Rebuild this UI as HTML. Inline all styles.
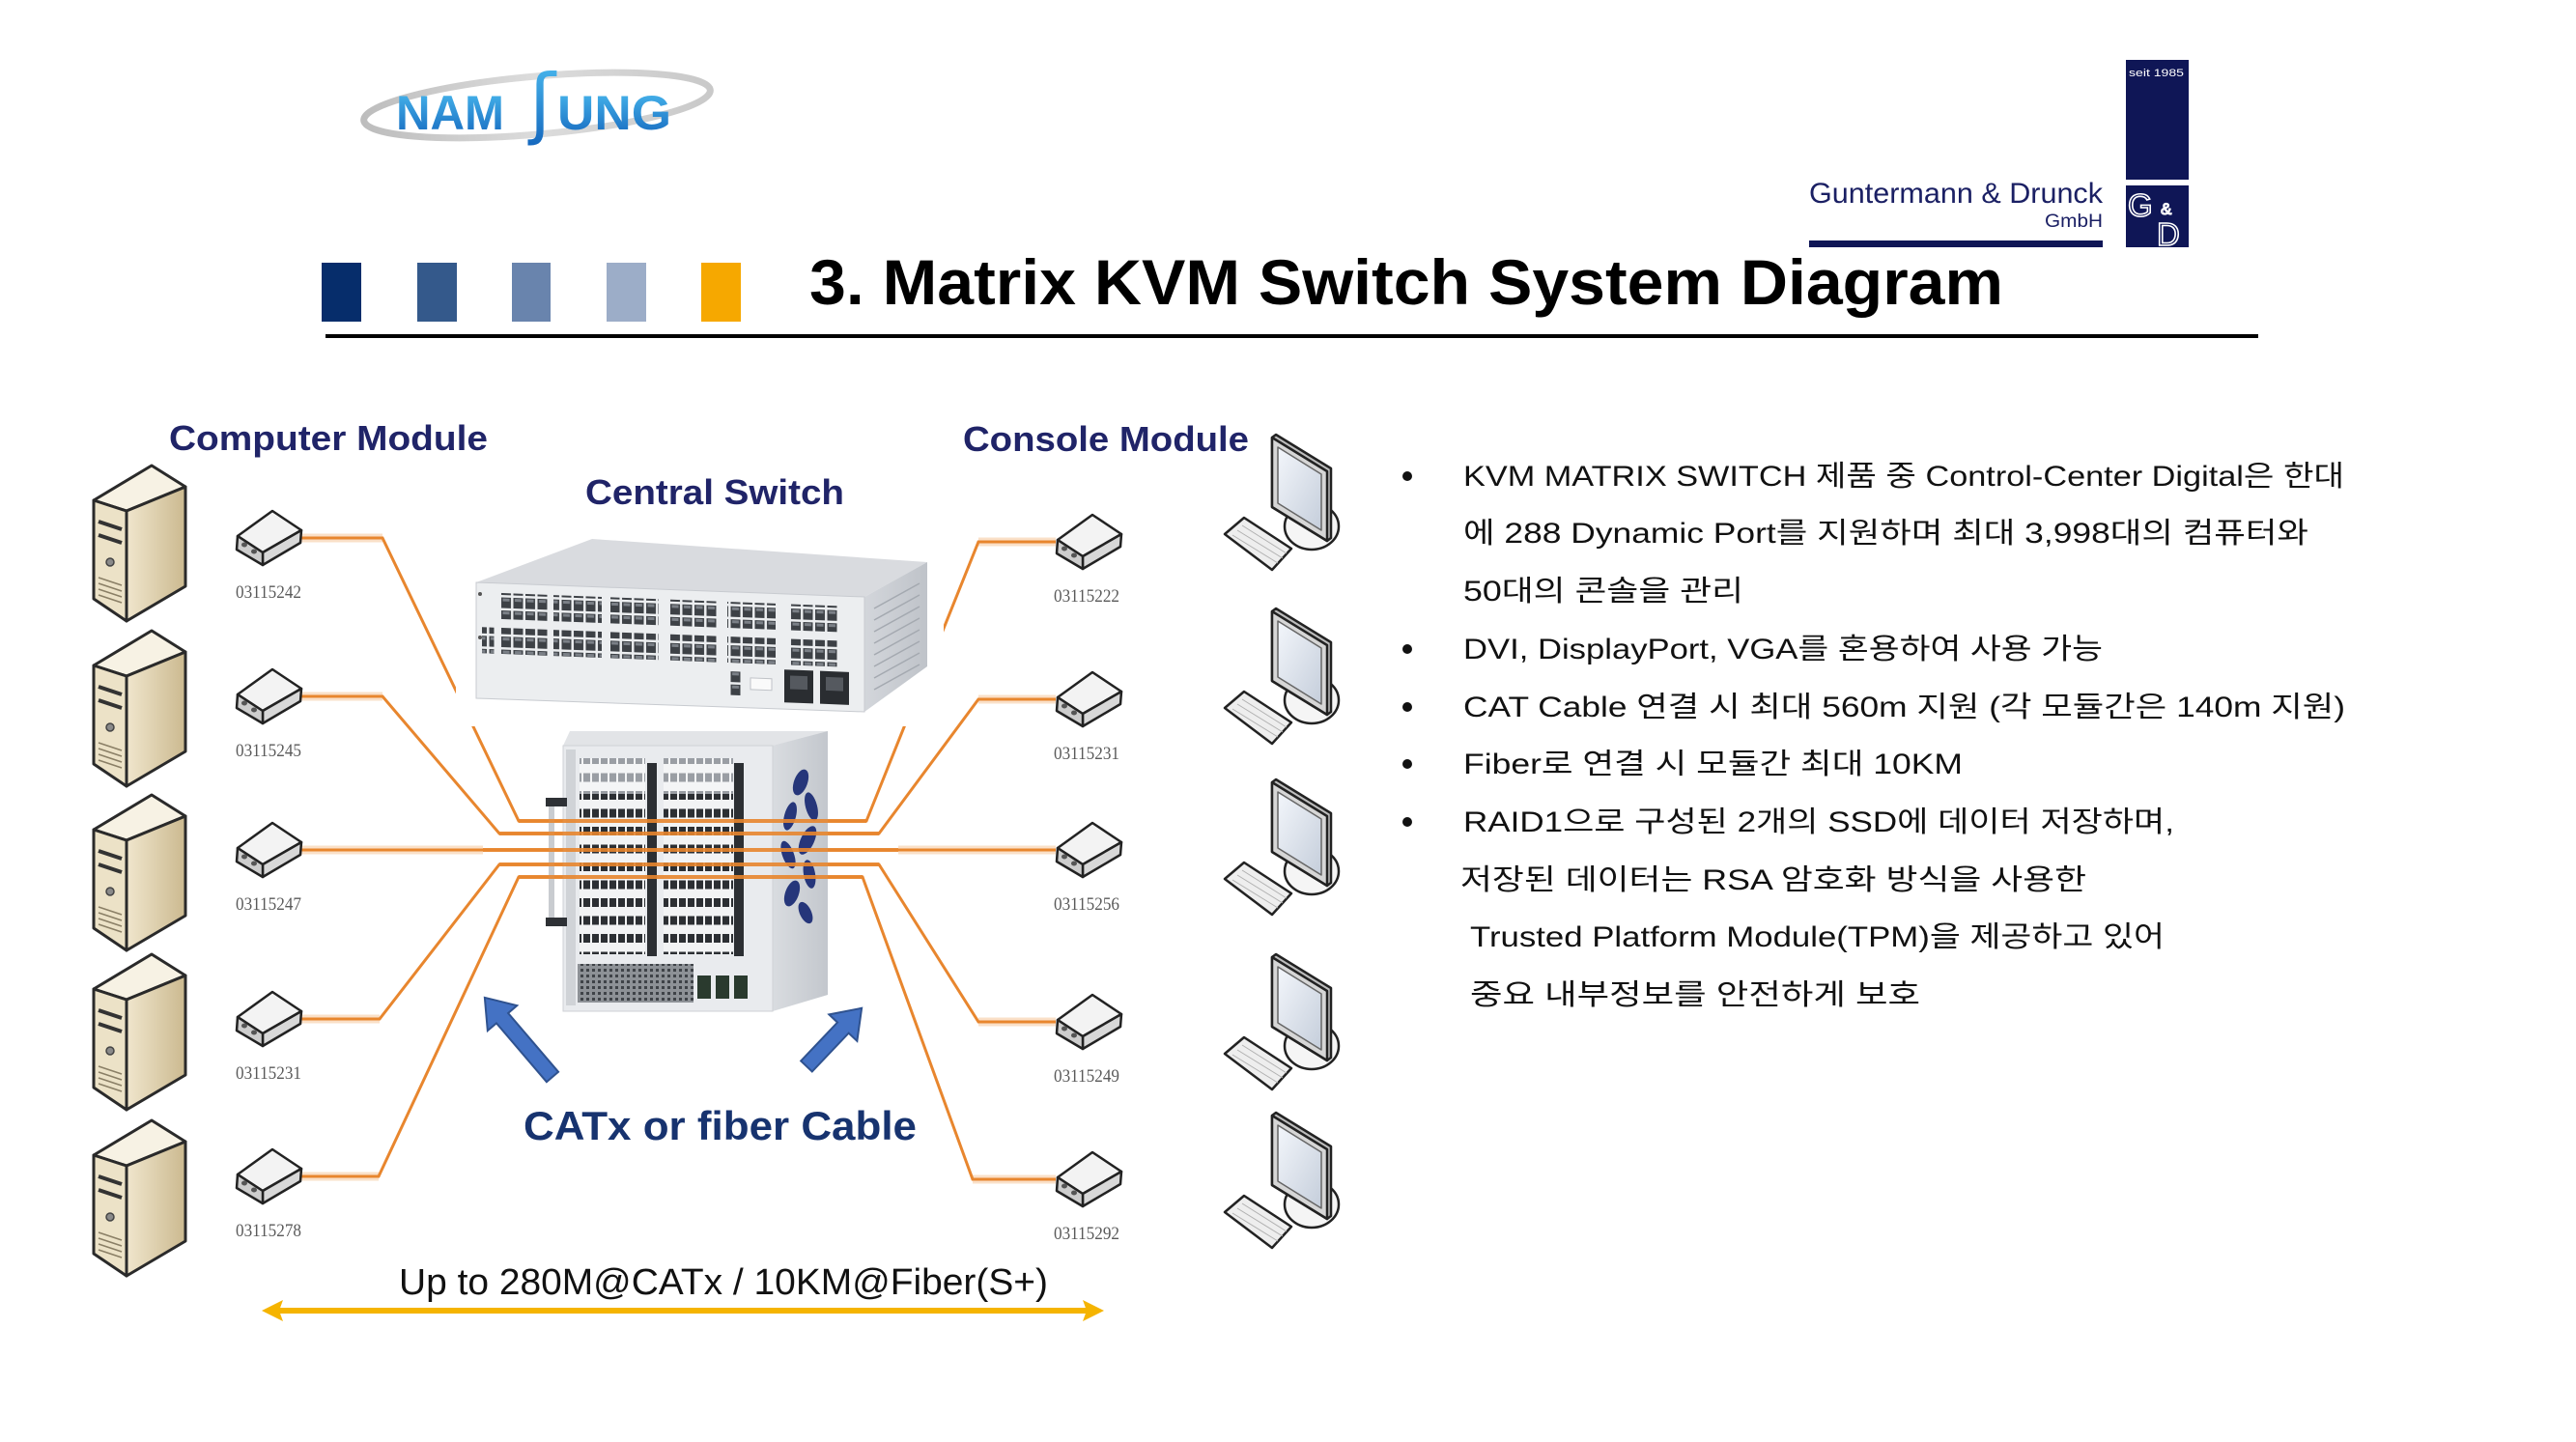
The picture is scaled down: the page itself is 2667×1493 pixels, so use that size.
<!DOCTYPE html>
<html><head><meta charset="utf-8">
<style>
html,body{margin:0;padding:0;background:#fff;width:2667px;height:1493px;overflow:hidden}
svg{display:block}
text{font-family:"Liberation Sans","Noto Sans CJK KR",sans-serif}
</style></head>
<body>
<svg width="2667" height="1493" viewBox="0 0 2667 1493" xmlns="http://www.w3.org/2000/svg">
<defs>
  <linearGradient id="beige" x1="0" y1="0" x2="1" y2="0">
    <stop offset="0" stop-color="#f0e6cd"/><stop offset="1" stop-color="#cbb98f"/>
  </linearGradient>
  <linearGradient id="logoBlue" x1="0" y1="0" x2="0" y2="1">
    <stop offset="0" stop-color="#4cbcf0"/><stop offset="1" stop-color="#1466bd"/>
  </linearGradient>
  <linearGradient id="ring" x1="0" y1="0" x2="1" y2="0">
    <stop offset="0" stop-color="#bdbdbd"/><stop offset="0.5" stop-color="#dcdcdc"/><stop offset="1" stop-color="#c9c9c9"/>
  </linearGradient>
  <linearGradient id="scr" x1="0" y1="0" x2="1" y2="1">
    <stop offset="0" stop-color="#f3f6fb"/><stop offset="1" stop-color="#c5cedb"/>
  </linearGradient>
  <linearGradient id="swR" x1="0" y1="0" x2="1" y2="0">
    <stop offset="0" stop-color="#d3d6db"/><stop offset="1" stop-color="#bfc3c9"/>
  </linearGradient>
  <linearGradient id="chR" x1="0" y1="0" x2="1" y2="0">
    <stop offset="0" stop-color="#d9dce0"/><stop offset="1" stop-color="#c3c7cd"/>
  </linearGradient>
  <pattern id="pp" x="0" y="0" width="12.5" height="13.5" patternUnits="userSpaceOnUse">
    <rect x="1" y="1" width="10" height="11" fill="#3d4146"/>
    <rect x="2.5" y="2" width="7" height="3" fill="#7b8087"/>
  </pattern>
  <pattern id="cp" x="0" y="0" width="9" height="18.5" patternUnits="userSpaceOnUse">
    <rect x="0" y="0" width="9" height="18.5" fill="#f2f3f4"/>
    <rect x="1" y="5" width="7" height="9" fill="#2c2f33"/>
  </pattern>
  <pattern id="cpl" x="0" y="0" width="9" height="18.5" patternUnits="userSpaceOnUse">
    <rect x="0" y="0" width="9" height="18.5" fill="#f4f5f6"/>
    <rect x="1" y="5" width="7" height="9" fill="#9a9ea4"/>
  </pattern>
  <pattern id="grille" x="0" y="0" width="6" height="6" patternUnits="userSpaceOnUse">
    <rect width="6" height="6" fill="#8d9196"/>
    <rect x="1" y="1" width="3" height="3" fill="#3f4348"/>
  </pattern>

  <g id="srv" stroke="#2a2a2a" stroke-width="3" stroke-linejoin="round">
    <path d="M0,0 L35,22 L-26,47 L-60,36 Z" fill="#f7f2e4"/>
    <path d="M-60,36 L-26,47 L-26,161 L-60,138 Z" fill="#ece2c7"/>
    <path d="M-26,47 L35,22 L35,125 L-26,161 Z" fill="url(#beige)"/>
    <g stroke="#333" stroke-width="4" fill="none">
      <path d="M-55,58 L-31,66"/><path d="M-55,72 L-31,80"/>
    </g>
    <circle cx="-43" cy="100" r="4" fill="#8a8a8a" stroke="#444" stroke-width="1.5"/>
    <g stroke="#8a7f66" stroke-width="1.5" fill="none">
      <path d="M-55,116 L-31,124"/><path d="M-55,122 L-31,130"/><path d="M-55,128 L-31,136"/><path d="M-55,134 L-31,142"/>
    </g>
  </g>

  <g id="mod" stroke="#222" stroke-width="2.5" stroke-linejoin="round">
    <path d="M0,-28 L30,-8 L-10,15 L-36,-2 Z" fill="#f3f3f3"/>
    <path d="M30,-8 L29,5 L-10,28 L-10,15 Z" fill="#d8d8d8"/>
    <path d="M-36,-2 L-10,15 L-10,28 L-37,12 Z" fill="#cdcdcd"/>
    <g fill="#555" stroke="none">
      <ellipse cx="-29" cy="7" rx="3" ry="2.5"/><ellipse cx="-19" cy="14" rx="3" ry="2.5"/>
    </g>
  </g>

  <g id="mon" stroke="#222" stroke-width="2.5" stroke-linejoin="round">
    <ellipse cx="41" cy="95" rx="28" ry="24" fill="#f5f5f5"/>
    <path d="M0,3 L4,0 L61,35 L61,107 L57,110 L0,75 Z" fill="#bdbdbd"/>
    <path d="M0,3 L57,38 L57,110 L0,75 Z" fill="#d6d6d6"/>
    <path d="M6,13 L51,41 L51,99 L6,71 Z" fill="url(#scr)" stroke="#666" stroke-width="1.5"/>
    <path d="M-49,103 L-29,86 L20,118 L0,140 Z" fill="#eeeeee"/>
    <g stroke="#b0b0b0" stroke-width="1" fill="none">
      <path d="M-41,104 L6,133"/><path d="M-36,99 L11,128"/><path d="M-31,94 L15,123"/>
    </g>
  </g>
</defs>

<rect width="2667" height="1493" fill="#fff"/>

<!-- ===== HEADER ===== -->
<ellipse cx="556" cy="109" rx="180" ry="30" transform="rotate(-5 556 109)" fill="none" stroke="url(#ring)" stroke-width="7"/>
<text x="410" y="134" font-size="50" font-weight="bold" fill="url(#logoBlue)" textLength="112" lengthAdjust="spacingAndGlyphs">NAM</text>
<text x="548" y="134" font-size="80" fill="url(#logoBlue)" style="font-family:'DejaVu Sans',sans-serif">ʃ</text>
<text x="577" y="134" font-size="50" font-weight="bold" fill="url(#logoBlue)" textLength="118" lengthAdjust="spacingAndGlyphs">UNG</text>

<!-- G&D logo -->
<rect x="2201" y="62" width="65" height="124" fill="#0f1656"/>
<text x="2204" y="79" font-size="11" fill="#fff" textLength="57" lengthAdjust="spacingAndGlyphs">seit 1985</text>
<rect x="2201" y="192" width="65" height="64" fill="#0f1656"/>
<text x="2203" y="224" font-size="33" fill="none" stroke="#fff" stroke-width="1.6">G</text>
<text x="2237" y="222" font-size="17" fill="none" stroke="#fff" stroke-width="1.2">&amp;</text>
<text x="2233" y="254" font-size="33" fill="none" stroke="#fff" stroke-width="1.6">D</text>
<text x="1873" y="210" font-size="30" fill="#1b2064" textLength="304" lengthAdjust="spacingAndGlyphs">Guntermann &amp; Drunck</text>
<text x="2117" y="235" font-size="19" fill="#1b2064" textLength="60" lengthAdjust="spacingAndGlyphs">GmbH</text>
<rect x="1873" y="249" width="304" height="7" fill="#0f1656"/>

<!-- color squares -->
<rect x="333" y="272" width="41" height="61" fill="#062d6b"/>
<rect x="432" y="272" width="41" height="61" fill="#34598b"/>
<rect x="530" y="272" width="40" height="61" fill="#6984ad"/>
<rect x="628" y="272" width="41" height="61" fill="#9cadc8"/>
<rect x="726" y="272" width="41" height="61" fill="#f6a800"/>

<text x="838" y="315" font-size="66" font-weight="bold" fill="#000" textLength="1236" lengthAdjust="spacingAndGlyphs">3. Matrix KVM Switch System Diagram</text>
<rect x="337" y="346" width="2001" height="4" fill="#000"/>

<!-- ===== DIAGRAM ===== -->
<text x="175" y="466" font-size="36" font-weight="bold" fill="#202468" textLength="330" lengthAdjust="spacingAndGlyphs">Computer Module</text>
<text x="997" y="467" font-size="36" font-weight="bold" fill="#202468" textLength="296" lengthAdjust="spacingAndGlyphs">Console Module</text>
<text x="606" y="522" font-size="36" font-weight="bold" fill="#202468" textLength="268" lengthAdjust="spacingAndGlyphs">Central Switch</text>

<!-- cable glow near modules -->
<g stroke="#f5bb85" stroke-width="9" opacity="0.45" fill="none">
  <path d="M312,557 H396"/><path d="M312,721 H396"/><path d="M312,880 H500"/><path d="M312,1055 H393"/><path d="M312,1218 H392"/>
  <path d="M1013,561 H1093"/><path d="M1013,724 H1093"/><path d="M930,880 H1093"/><path d="M1013,1058 H1093"/><path d="M1007,1221 H1093"/>
</g>
<!-- cables -->
<g stroke="#e8862e" stroke-width="3" fill="none" stroke-linejoin="miter">
  <path d="M312,557 H396 L537,850 H897 L1013,561 H1093"/>
  <path d="M312,721 H396 L517,863 H910 L1013,724 H1093"/>
  <path d="M312,880 H1093"/>
  <path d="M312,1055 H393 L517,895 H910 L1013,1058 H1093"/>
  <path d="M312,1218 H392 L537,908 H893 L1007,1221 H1093"/>
</g>

<!-- central switch appliance -->
<rect x="472" y="540" width="505" height="212" fill="#fff"/>
<path d="M493,603 L613,558 L960,582 L895,618 Z" fill="#d9dbdf"/>
<path d="M895,618 L960,582 L960,690 L895,737 Z" fill="url(#swR)"/>
<g stroke="#a4a9b0" stroke-width="1.5">
  <path d="M905,630 L952,604"/><path d="M905,642 L952,616"/><path d="M905,654 L952,628"/><path d="M905,666 L952,640"/><path d="M905,678 L952,652"/><path d="M905,690 L952,664"/><path d="M905,702 L952,676"/><path d="M905,714 L952,688"/>
</g>
<path d="M493,603 L895,618 L895,737 L493,723 Z" fill="#eceef0" stroke="#c8cbd0" stroke-width="1"/>
<g transform="translate(493,603) skewY(2.2)">
  <rect x="24" y="10" width="50" height="27" fill="url(#pp)"/>
  <rect x="80" y="10" width="50" height="27" fill="url(#pp)"/>
  <rect x="139" y="10" width="50" height="27" fill="url(#pp)"/>
  <rect x="199" y="10" width="50" height="27" fill="url(#pp)"/>
  <rect x="260" y="10" width="50" height="27" fill="url(#pp)"/>
  <rect x="325" y="10" width="50" height="27" fill="url(#pp)"/>
  <rect x="6" y="46" width="12.5" height="27" fill="url(#pp)"/>
  <rect x="24" y="46" width="50" height="27" fill="url(#pp)"/>
  <rect x="80" y="46" width="50" height="27" fill="url(#pp)"/>
  <rect x="139" y="46" width="50" height="27" fill="url(#pp)"/>
  <rect x="199" y="46" width="50" height="27" fill="url(#pp)"/>
  <rect x="260" y="46" width="50" height="27" fill="url(#pp)"/>
  <rect x="325" y="46" width="50" height="27" fill="url(#pp)"/>
  <rect x="262" y="80" width="12.5" height="27" fill="url(#pp)"/>
  <rect x="284" y="88" width="22" height="12" fill="#fafafa" stroke="#c0c3c8"/>
  <rect x="319" y="78" width="30" height="34" fill="#2a2d31"/>
  <rect x="356" y="78" width="30" height="34" fill="#2a2d31"/>
  <rect x="325" y="84" width="18" height="14" fill="#55595f"/>
  <rect x="362" y="84" width="18" height="14" fill="#55595f"/>
</g>
<circle cx="497" cy="615" r="2" fill="#555"/><circle cx="497" cy="660" r="2" fill="#555"/>

<!-- chassis -->
<path d="M590,757 L857,757 L850,772 L583,772 Z" fill="#e2e4e7"/>
<path d="M800,772 L857,757 L857,1030 L800,1047 Z" fill="url(#chR)"/>
<rect x="583" y="772" width="217" height="275" fill="#e9ebee" stroke="#cfd2d6" stroke-width="1"/>
<rect x="586" y="776" width="10" height="265" fill="#d0d3d7"/>
<rect x="565" y="826" width="22" height="9" fill="#2e3135"/>
<rect x="565" y="950" width="22" height="9" fill="#2e3135"/>
<rect x="568" y="835" width="6" height="115" fill="#c9ccd0"/>
<rect x="600" y="785" width="68" height="37" fill="url(#cpl)"/>
<rect x="687" y="785" width="72" height="37" fill="url(#cpl)"/>
<rect x="600" y="822" width="68" height="166" fill="url(#cp)"/>
<rect x="687" y="822" width="72" height="166" fill="url(#cp)"/>
<rect x="670" y="790" width="10" height="200" fill="#2c2f33"/>
<rect x="760" y="790" width="10" height="200" fill="#2c2f33"/>
<rect x="598" y="998" width="120" height="40" fill="url(#grille)"/>
<rect x="722" y="1010" width="14" height="24" fill="#2a3a2e"/>
<rect x="741" y="1010" width="14" height="24" fill="#2a3a2e"/>
<rect x="760" y="1010" width="14" height="24" fill="#2a3a2e"/>
<g fill="#26367a">
  <ellipse cx="829" cy="810" rx="7" ry="14" transform="rotate(20 829 810)"/>
  <ellipse cx="840" cy="835" rx="6" ry="15" transform="rotate(-15 840 835)"/>
  <ellipse cx="818" cy="845" rx="6" ry="15" transform="rotate(15 818 845)"/>
  <ellipse cx="836" cy="870" rx="7" ry="16" transform="rotate(25 836 870)"/>
  <ellipse cx="816" cy="885" rx="6" ry="15" transform="rotate(-20 816 885)"/>
  <ellipse cx="838" cy="905" rx="6" ry="15" transform="rotate(-10 838 905)"/>
  <ellipse cx="820" cy="925" rx="7" ry="14" transform="rotate(20 820 925)"/>
  <ellipse cx="834" cy="945" rx="6" ry="12" transform="rotate(-25 834 945)"/>
</g>

<!-- cables across chassis -->
<g stroke="#e8862e" stroke-width="4" fill="none" opacity="0.9">
  <path d="M537,850 H897"/><path d="M517,863 H910"/><path d="M500,880 H930"/><path d="M517,895 H910"/><path d="M537,908 H893"/>
</g>

<!-- servers -->
<use href="#srv" x="157" y="482"/>
<use href="#srv" x="157" y="653"/>
<use href="#srv" x="157" y="823"/>
<use href="#srv" x="157" y="988"/>
<use href="#srv" x="157" y="1160"/>

<!-- left modules -->
<use href="#mod" x="282" y="557"/>
<use href="#mod" x="282" y="721"/>
<use href="#mod" x="282" y="880"/>
<use href="#mod" x="282" y="1055"/>
<use href="#mod" x="282" y="1218"/>
<!-- right modules -->
<use href="#mod" x="1131" y="561"/>
<use href="#mod" x="1131" y="724"/>
<use href="#mod" x="1131" y="880"/>
<use href="#mod" x="1131" y="1058"/>
<use href="#mod" x="1131" y="1221"/>

<g font-size="19" fill="#5a5a5a">
  <text x="244" y="619" textLength="68" lengthAdjust="spacingAndGlyphs" style="font-family:'Liberation Serif',serif">03115242</text>
  <text x="244" y="783" textLength="68" lengthAdjust="spacingAndGlyphs" style="font-family:'Liberation Serif',serif">03115245</text>
  <text x="244" y="942" textLength="68" lengthAdjust="spacingAndGlyphs" style="font-family:'Liberation Serif',serif">03115247</text>
  <text x="244" y="1117" textLength="68" lengthAdjust="spacingAndGlyphs" style="font-family:'Liberation Serif',serif">03115231</text>
  <text x="244" y="1280" textLength="68" lengthAdjust="spacingAndGlyphs" style="font-family:'Liberation Serif',serif">03115278</text>
  <text x="1091" y="623" textLength="68" lengthAdjust="spacingAndGlyphs" style="font-family:'Liberation Serif',serif">03115222</text>
  <text x="1091" y="786" textLength="68" lengthAdjust="spacingAndGlyphs" style="font-family:'Liberation Serif',serif">03115231</text>
  <text x="1091" y="942" textLength="68" lengthAdjust="spacingAndGlyphs" style="font-family:'Liberation Serif',serif">03115256</text>
  <text x="1091" y="1120" textLength="68" lengthAdjust="spacingAndGlyphs" style="font-family:'Liberation Serif',serif">03115249</text>
  <text x="1091" y="1283" textLength="68" lengthAdjust="spacingAndGlyphs" style="font-family:'Liberation Serif',serif">03115292</text>
</g>

<!-- monitors -->
<use href="#mon" x="1317" y="450"/>
<use href="#mon" x="1317" y="630"/>
<use href="#mon" x="1317" y="807"/>
<use href="#mon" x="1317" y="988"/>
<use href="#mon" x="1317" y="1152"/>

<!-- blue arrows -->
<g fill="#4472c4" stroke="#2f528f" stroke-width="2" stroke-linejoin="miter">
  <path transform="translate(572,1115) rotate(-130.5)" d="M0,-8 L80,-8 L80,-20 L108,0 L80,20 L80,8 L0,8 Z"/>
  <path transform="translate(835,1104) rotate(-46.5)" d="M0,-8 L55,-8 L55,-20 L83,0 L55,20 L55,8 L0,8 Z"/>
</g>

<text x="542" y="1180" font-size="42" font-weight="bold" fill="#17336f" textLength="407" lengthAdjust="spacingAndGlyphs">CATx or fiber Cable</text>
<text x="413" y="1340" font-size="38" fill="#111" textLength="672" lengthAdjust="spacingAndGlyphs">Up to 280M@CATx / 10KM@Fiber(S+)</text>

<!-- yellow double arrow -->
<line x1="285" y1="1357" x2="1129" y2="1357" stroke="#f5b400" stroke-width="6"/>
<path d="M271,1357 L293,1346 L289,1357 L293,1368 Z" fill="#f5b400"/>
<path d="M1143,1357 L1121,1346 L1125,1357 L1121,1368 Z" fill="#f5b400"/>

<!-- ===== RIGHT TEXT ===== -->
<g fill="#111">
  <circle cx="1457" cy="493" r="5"/>
  <circle cx="1457" cy="672" r="5"/>
  <circle cx="1457" cy="732" r="5"/>
  <circle cx="1457" cy="791" r="5"/>
  <circle cx="1457" cy="851" r="5"/>
</g>
<g font-size="30" fill="#111">
  <text x="1515" y="503" textLength="912" lengthAdjust="spacingAndGlyphs">KVM MATRIX SWITCH 제품 중 Control-Center Digital은 한대</text>
  <text x="1515" y="562" textLength="875" lengthAdjust="spacingAndGlyphs">에 288 Dynamic Port를 지원하며 최대 3,998대의 컴퓨터와</text>
  <text x="1515" y="622" textLength="290" lengthAdjust="spacingAndGlyphs">50대의 콘솔을 관리</text>
  <text x="1515" y="682" textLength="662" lengthAdjust="spacingAndGlyphs">DVI, DisplayPort, VGA를 혼용하여 사용 가능</text>
  <text x="1515" y="742" textLength="913" lengthAdjust="spacingAndGlyphs">CAT Cable 연결 시 최대 560m 지원 (각 모듈간은 140m 지원)</text>
  <text x="1515" y="801" textLength="517" lengthAdjust="spacingAndGlyphs">Fiber로 연결 시 모듈간 최대 10KM</text>
  <text x="1515" y="861" textLength="736" lengthAdjust="spacingAndGlyphs">RAID1으로 구성된 2개의 SSD에 데이터 저장하며,</text>
  <text x="1512" y="921" textLength="648" lengthAdjust="spacingAndGlyphs">저장된 데이터는 RSA 암호화 방식을 사용한</text>
  <text x="1522" y="980" textLength="719" lengthAdjust="spacingAndGlyphs">Trusted Platform Module(TPM)을 제공하고 있어</text>
  <text x="1522" y="1040" textLength="466" lengthAdjust="spacingAndGlyphs">중요 내부정보를 안전하게 보호</text>
</g>
</svg>
</body></html>
